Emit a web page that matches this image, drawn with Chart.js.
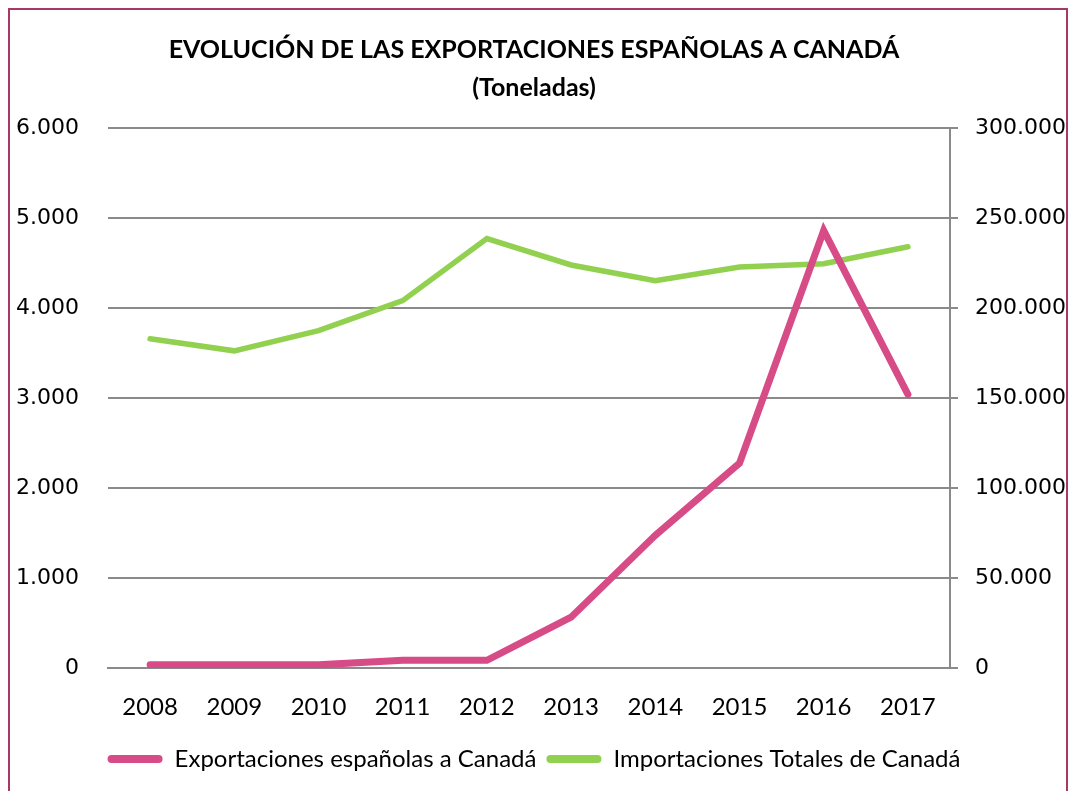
<!DOCTYPE html>
<html>
<head>
<meta charset="utf-8">
<script src="https://cdn.jsdelivr.net/npm/chart.js@4/dist/chart.umd.min.js"></script>
<style>
    html, body { margin: 0; padding: 0; background: #fff; }
    #wrap { width: 1068px; height: 791px; }
</style>
</head>
<body>
<div id="wrap"><canvas id="chart"></canvas></div>
<script>
const years = ['2008', '2009', '2010', '2011', '2012', '2013', '2014', '2015', '2016', '2017'];
const exportaciones = [35, 35, 35, 85, 85, 565, 1475, 2275, 4860, 3040];
const importaciones = [182900, 176200, 187400, 204100, 238600, 223900, 215200, 222800, 224600, 234000];
const leftTicks = [0, 1000, 2000, 3000, 4000, 5000, 6000];
const rightTicks = [0, 50000, 100000, 150000, 200000, 250000, 300000];

const gridColor = '#8a8a8a';

function miles(v) {
    return String(v).replace(/\B(?=(\d{3})+(?!\d))/g, '.');
}

// marco del grafico
const frame = {
    id: 'frame',
    afterDraw(chart) {
        const ctx = chart.ctx;
        ctx.save();
        ctx.strokeStyle = '#a53a67';
        ctx.lineWidth = 2;
        ctx.strokeRect(9, 9, 1058, 900);
        ctx.restore();
    }
};

Chart.defaults.font.family = 'Lato, "Open Sans", sans-serif';
Chart.defaults.color = '#000';

const ctx = document.getElementById('chart').getContext('2d');
new Chart(ctx, {
    type: 'line',
    data: {
        labels: years,
        datasets: [{
            label: 'Exportaciones españolas a Canadá',
            data: exportaciones,
            borderColor: '#d74b86',
            backgroundColor: '#d74b86',
            borderWidth: 7,
            pointRadius: 0,
            tension: 0,
            borderCapStyle: 'round',
            yAxisID: 'y'
        }, {
            label: 'Importaciones Totales de Canadá',
            data: importaciones,
            borderColor: '#92d050',
            backgroundColor: '#92d050',
            borderWidth: 5.5,
            pointRadius: 0,
            tension: 0,
            borderCapStyle: 'round',
            yAxisID: 'y1'
        }]
    },
    options: {
        responsive: true,
        maintainAspectRatio: false,
        animation: false,
        layout: { padding: { left: 0, right: 0, top: 0, bottom: 10 } },
        plugins: {
            title: {
                display: true,
                text: ['EVOLUCIÓN DE LAS EXPORTACIONES ESPAÑOLAS A CANADÁ', '(Toneladas)'],
                font: { size: 25, weight: 'bold', lineHeight: 1.52 },
                color: '#000',
                padding: { top: 31, bottom: 21 }
            },
            legend: {
                position: 'bottom',
                labels: {
                    boxWidth: 55,
                    boxHeight: 8,
                    padding: 10,
                    font: { size: 24 },
                    color: '#000',
                    generateLabels(chart) {
                        return Chart.defaults.plugins.legend.labels.generateLabels(chart).map(item => {
                            item.fillStyle = item.strokeStyle;
                            item.lineWidth = 0;
                            item.borderRadius = 4;
                            return item;
                        });
                    }
                }
            },
            tooltip: { enabled: false }
        },
        scales: {
            x: {
                offset: true,
                grid: { display: false, drawTicks: false },
                border: { display: true, color: gridColor, width: 2 },
                ticks: { font: { size: 24 }, padding: 25, maxRotation: 0 },
                afterFit(scale) { scale.height = 69; }
            },
            y: {
                position: 'left',
                min: 0,
                max: 6000,
                afterBuildTicks(scale) { scale.ticks = leftTicks.map(v => ({ value: v })); },
                grid: { color: gridColor, lineWidth: 2, drawTicks: false },
                border: { display: false },
                ticks: {
                    font: { family: '"DejaVu Sans"', size: 22 },
                    padding: 29,
                    callback: v => miles(v)
                },
                afterFit(scale) { scale.width = 108; }
            },
            y1: {
                position: 'right',
                min: 0,
                max: 300000,
                afterBuildTicks(scale) { scale.ticks = rightTicks.map(v => ({ value: v })); },
                grid: { drawOnChartArea: false, color: gridColor, lineWidth: 2, tickLength: 8 },
                border: { display: true, color: gridColor, width: 2 },
                ticks: {
                    font: { family: '"DejaVu Sans"', size: 22 },
                    padding: 17,
                    callback: v => miles(v)
                },
                afterFit(scale) { scale.width = 118; }
            }
        }
    },
    plugins: [frame]
});
</script>
</body>
</html>
